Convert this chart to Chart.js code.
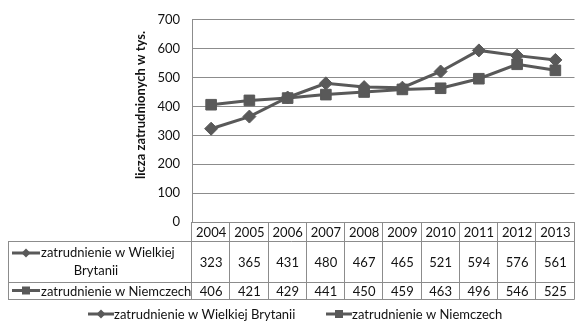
<!DOCTYPE html>
<html>
<head>
<meta charset="utf-8">
<script src="https://cdn.jsdelivr.net/npm/chart.js@4.4.0/dist/chart.umd.min.js"></script>
<style>
  html, body { margin: 0; padding: 0; background: #fff; }
</style>
</head>
<body>
<canvas id="chart" width="583" height="327"></canvas>
<script>
// data
const years = ['2004', '2005', '2006', '2007', '2008', '2009', '2010', '2011', '2012', '2013'];
const ukLabel = 'zatrudnienie w Wielkiej Brytanii';
const deLabel = 'zatrudnienie w Niemczech';
const ukValues = [323, 365, 431, 480, 467, 465, 521, 594, 576, 561];
const deValues = [406, 421, 429, 441, 450, 459, 463, 496, 546, 525];
const yTicks = [0, 100, 200, 300, 400, 500, 600, 700];
const yTitle = 'licza zatrudnionych w tys.';

const FONT = 'Lato, "Noto Sans", sans-serif';
const LINE = '#595959';
const GRID = '#8c8c8c';
const TEXT = '#111';

// little "line + marker" icon like in Excel legends
function drawIcon(ctx, x, y, len, style) {
    ctx.save();
    ctx.strokeStyle = LINE;
    ctx.fillStyle = LINE;
    ctx.lineWidth = 3;
    ctx.beginPath();
    ctx.moveTo(x, y);
    ctx.lineTo(x + len, y);
    ctx.stroke();
    const cx = x + len / 2;
    ctx.beginPath();
    if (style === 'rect') {
        ctx.rect(cx - 4, y - 4, 8, 8);
    } else {
        ctx.moveTo(cx, y - 4.5);
        ctx.lineTo(cx + 4.5, y);
        ctx.lineTo(cx, y + 4.5);
        ctx.lineTo(cx - 4.5, y);
        ctx.closePath();
    }
    ctx.fill();
    ctx.restore();
}

// data table + axis title + legend drawn under the plot
const tablePlugin = {
    id: 'dataTable',
    afterDraw(chart) {
        const ctx = chart.ctx;
        const area = chart.chartArea;
        const xs = chart.scales.x;
        const colW = (area.right - area.left) / years.length;
        const tableLeft = 8;
        const right = area.right;
        const top = area.bottom;
        const headBottom = top + 19;
        const row1Bottom = headBottom + 41;
        const row2Bottom = row1Bottom + 17;

        ctx.save();
        ctx.strokeStyle = GRID;
        ctx.lineWidth = 1;
        ctx.beginPath();
        // horizontal lines
        ctx.moveTo(area.left, top + 0.5); ctx.lineTo(right, top + 0.5);
        ctx.moveTo(tableLeft, headBottom + 0.5); ctx.lineTo(right, headBottom + 0.5);
        ctx.moveTo(tableLeft, row1Bottom + 0.5); ctx.lineTo(right, row1Bottom + 0.5);
        ctx.moveTo(tableLeft, row2Bottom + 0.5); ctx.lineTo(right, row2Bottom + 0.5);
        // vertical lines
        for (let i = 0; i <= years.length; i++) {
            const x = Math.round(area.left + i * colW) - 0.5;
            ctx.moveTo(x, top); ctx.lineTo(x, row2Bottom + 0.5);
        }
        ctx.moveTo(tableLeft + 0.5, headBottom); ctx.lineTo(tableLeft + 0.5, row2Bottom + 0.5);
        ctx.stroke();

        ctx.fillStyle = TEXT;
        ctx.font = '13px ' + FONT;
        ctx.textAlign = 'center';
        ctx.textBaseline = 'middle';
        years.forEach((yr, i) => {
            const x = xs.getPixelForValue(i);
            ctx.fillText(yr, x, (top + headBottom) / 2 + 1);
            ctx.fillText(String(ukValues[i]), x, (headBottom + row1Bottom) / 2 + 1);
            ctx.fillText(String(deValues[i]), x, (row1Bottom + row2Bottom) / 2 + 1);
        });

        // row labels
        drawIcon(ctx, 12, headBottom + 12, 28, 'rectRot');
        ctx.textAlign = 'left';
        ctx.fillText('zatrudnienie w Wielkiej', 41, headBottom + 12);
        ctx.textAlign = 'center';
        ctx.fillText('Brytanii', 96, headBottom + 30);
        drawIcon(ctx, 12, (row1Bottom + row2Bottom) / 2, 28, 'rect');
        ctx.textAlign = 'left';
        ctx.fillText(deLabel, 41, (row1Bottom + row2Bottom) / 2 + 1);

        // legend
        const ly = 314;
        drawIcon(ctx, 88, ly, 26, 'rectRot');
        ctx.fillText(ukLabel, 114, ly + 1);
        drawIcon(ctx, 326, ly, 26, 'rect');
        ctx.fillText(deLabel, 352, ly + 1);

        // y axis title
        ctx.translate(141, 105);
        ctx.rotate(-Math.PI / 2);
        ctx.textAlign = 'center';
        ctx.font = 'bold 13px ' + FONT;
        ctx.fillText(yTitle, 0, 0);
        ctx.restore();
    }
};

const ctx = document.getElementById('chart').getContext('2d');
new Chart(ctx, {
    type: 'line',
    data: {
        labels: years,
        datasets: [{
            label: ukLabel,
            data: ukValues,
            borderColor: LINE,
            backgroundColor: LINE,
            borderWidth: 3,
            pointStyle: 'rectRot',
            pointRadius: 6.5,
            pointBorderWidth: 1,
            tension: 0
        }, {
            label: deLabel,
            data: deValues,
            borderColor: LINE,
            backgroundColor: LINE,
            borderWidth: 3,
            pointStyle: 'rect',
            pointRadius: 7.5,
            pointBorderWidth: 1,
            tension: 0
        }]
    },
    options: {
        responsive: false,
        animation: false,
        layout: { padding: { top: 16, right: 1, bottom: 105, left: 0 } },
        plugins: {
            legend: { display: false },
            tooltip: { enabled: false }
        },
        scales: {
            x: { display: false, offset: true },
            y: {
                min: 0,
                max: 700,
                afterBuildTicks: (scale) => { scale.ticks = yTicks.map(v => ({ value: v })); },
                afterFit: (scale) => { scale.width = 192; },
                grid: { color: GRID, drawTicks: false },
                border: { color: GRID },
                ticks: { padding: 12, color: TEXT, font: { family: FONT, size: 13 } }
            }
        }
    },
    plugins: [tablePlugin]
});
</script>
</body>
</html>
